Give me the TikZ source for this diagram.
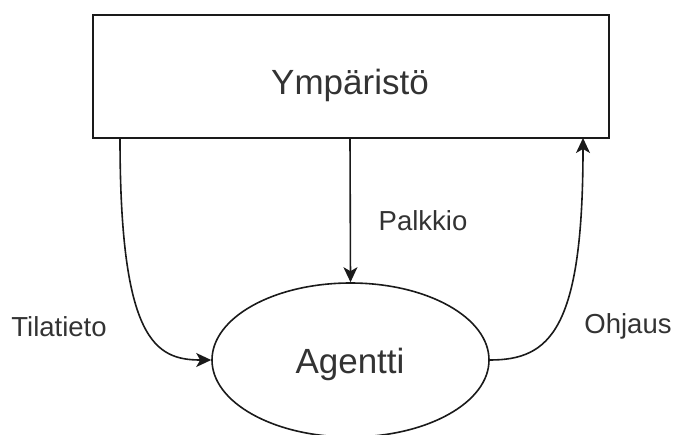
\documentclass[tikz,border=0pt]{standalone}
\usepackage{fontspec}
\setmainfont{Liberation Sans}
\usetikzlibrary{arrows.meta,shapes.geometric}
\definecolor{ink}{HTML}{1A1A1A}
\definecolor{txt}{HTML}{333333}
\begin{document}
\begin{tikzpicture}[x=1pt,y=-1pt,
  line width=1.6pt, draw=ink,
  box/.style={draw=ink, rectangle, minimum width=516pt, minimum height=123pt, inner sep=0pt},
  oval/.style={draw=ink, ellipse, minimum width=277pt, minimum height=154pt, inner sep=0pt},
  big/.style={font=\fontsize{35}{40}\selectfont, text=txt, anchor=base, inner sep=0pt},
  lbl/.style={font=\fontsize{27.5}{32}\selectfont, text=txt, anchor=base, inner sep=0pt},
  flow/.style={draw=ink, -{Stealth[length=15pt,width=14pt,inset=4pt]}}
]
\useasboundingbox (0,0) rectangle (677,434);
\clip (0,0) rectangle (677,434);

% environment and agent
\node[box]  (env) at (351,76.5) {};
\node[oval] (agent) at (350.5,360) {};
\node[big] (envtext) at (350,94) {Ympäristö};
\node[big] (agtext) at (350,373) {Agentti};

% anchors where the connectors leave and enter
\coordinate (sOut) at (120,138);
\coordinate (rOut) at (350,138);
\coordinate (aIn)  at (583,138);

% state, reward and action flows
\draw[flow] (sOut) .. controls (120,340) and (155,360) .. (agent.west);
\draw[flow] (rOut) -- (agent.north);
\draw[flow] (agent.east) .. controls (550,360) and (583,330) .. (aIn);

% labels
\node[lbl] (palkkio) at (423,230) {Palkkio};
\node[lbl] (tila) at (59,336) {Tilatieto};
\node[lbl] (ohjaus) at (628,333) {Ohjaus};
\end{tikzpicture}
\end{document}
